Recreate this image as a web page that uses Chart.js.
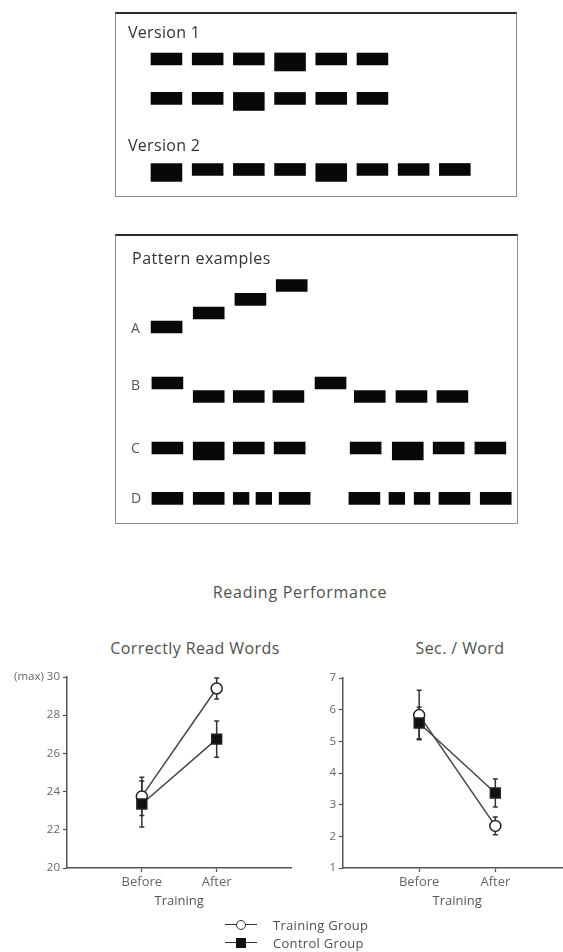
<!DOCTYPE html>
<html>
<head>
<meta charset="utf-8">
<script src="https://cdn.jsdelivr.net/npm/chart.js@4.4.1/dist/chart.umd.min.js"></script>
<style>
  html, body { margin: 0; padding: 0; background: #fff; }
  body { width: 563px; height: 952px; position: relative; overflow: hidden;
         font-family: "Open Sans", sans-serif; color: #505050; }
  .box { position: absolute; box-sizing: border-box; border: 1px solid #8c8c8c; border-top: 2px solid #2a2a2a; }
  canvas { position: absolute; }
  .t { position: absolute; white-space: nowrap; line-height: 1; transform: translateY(-50%); }
  .c { transform: translate(-50%, -50%); }
  .sym { position: absolute; width: 32px; height: 10px; transform: translateY(-50%); }
  .sym .ln { position: absolute; left: 0; right: 0; top: 4px; border-top: 1.5px solid #333; }
  .sym .mk { position: absolute; left: 11px; top: 0; width: 10px; height: 10px; box-sizing: border-box; }
</style>
</head>
<body>

<div class="box" style="left:115px;top:12px;width:402px;height:185px"></div>
<div class="box" style="left:115px;top:234px;width:403px;height:290px"></div>

<canvas id="box1" width="400" height="182" style="left:116px;top:13px"></canvas>
<canvas id="box2" width="401" height="288" style="left:116px;top:235px"></canvas>

<div class="t" style="left:128px;top:32px;font-size:16px;letter-spacing:0.3px;color:#333">Version 1</div>
<div class="t" style="left:128px;top:145px;font-size:16px;letter-spacing:0.3px;color:#333">Version 2</div>
<div class="t" style="left:132px;top:258px;font-size:16px;letter-spacing:0.5px;color:#333">Pattern examples</div>
<div class="t" style="left:131px;top:328px;font-size:14px;color:#555">A</div>
<div class="t" style="left:131px;top:385px;font-size:14px;color:#555">B</div>
<div class="t" style="left:131px;top:448px;font-size:14px;color:#555">C</div>
<div class="t" style="left:131px;top:498px;font-size:14px;color:#555">D</div>

<div class="t c" style="left:300px;top:592px;font-size:16px;letter-spacing:0.7px">Reading Performance</div>
<div class="t c" style="left:195px;top:648px;font-size:16px;letter-spacing:0.4px">Correctly Read Words</div>
<div class="t c" style="left:460px;top:648px;font-size:16px;letter-spacing:0.4px">Sec. / Word</div>

<canvas id="words" width="300" height="244" style="left:0px;top:665px"></canvas>
<canvas id="secs" width="290" height="244" style="left:290px;top:665px"></canvas>

<div class="sym" style="left:225px;top:925px"><i class="ln"></i><i class="mk" style="border:1.5px solid #333;border-radius:50%;background:#fff"></i></div>
<div class="t" style="left:273px;top:925px;font-size:13px;letter-spacing:0.3px">Training Group</div>
<div class="sym" style="left:225px;top:943px"><i class="ln"></i><i class="mk" style="background:#111"></i></div>
<div class="t" style="left:273px;top:943px;font-size:13px;letter-spacing:0.3px">Control Group</div>

<script>
// ---- pattern boxes: note onsets in beats, centre level on a 12px grid, accent = taller note
const noteLen = 0.75;
const shortLen = 0.38;

const v1aOn = [0, 1, 2, 3, 4, 5];
const v1aAcc = [0, 0, 0, 1, 0, 0];
const v1bOn = [0, 1, 2, 3, 4, 5];
const v1bAcc = [0, 0, 1, 0, 0, 0];
const v2On = [0, 1, 2, 3, 4, 5, 6, 7];
const v2Acc = [1, 0, 0, 0, 1, 0, 0, 0];
const box1Levels = [3.83, 7.12, 13.04];

const patAOn = [0, 1.02, 2.03, 3.03];
const patALevel = [7.67, 6.5, 5.37, 4.21];
const patBOn = [0.02, 1.02, 1.99, 2.95, 3.97, 4.92, 5.93, 6.92];
const patBLevel = [12.33, 13.46, 13.46, 13.46, 12.33, 13.46, 13.46, 13.46];
const patCOn = [0.02, 1.02, 1.99, 2.98, 4.82, 5.84, 6.83, 7.84];
const patCAcc = [0, 1, 0, 0, 0, 1, 0, 0];
const patCLevel = 17.75;
const patDOn = [0.02, 1.02, 1.99, 2.54, 3.10, 4.79, 5.76, 6.37, 6.97, 7.97];
const patDShort = [0, 0, 1, 1, 0, 0, 1, 1, 0, 0];
const patDLevel = 21.95;

// ---- reading performance
const phases = ['Before', 'After'];
const phaseX = [1, 2];
const wordsTraining = [23.75, 29.4];
const wordsTrainingErr = [1.0, 0.55];
const wordsControl = [23.35, 26.75];
const wordsControlErr = [1.2, 0.95];
const secTraining = [5.83, 2.33];
const secTrainingErr = [0.78, 0.28];
const secControl = [5.58, 3.37];
const secControlErr = [0.5, 0.44];

Chart.defaults.font.family = "'Open Sans', sans-serif";
Chart.defaults.animation = false;
Chart.defaults.plugins.legend.display = false;
Chart.defaults.plugins.tooltip.enabled = false;

const ACCENT_SHIFT = 0.25;

function notes(onsets, level, accents, shorts) {
    const normal = [], accent = [];
    onsets.forEach((on, i) => {
        const lv = Array.isArray(level) ? level[i] : level;
        const len = shorts && shorts[i] ? shortLen : noteLen;
        if (accents && accents[i]) {
            accent.push({ x: [on, on + len], y: lv + ACCENT_SHIFT });
        } else {
            normal.push({ x: [on, on + len], y: lv });
        }
    });
    return { normal, accent };
}

function patternChart(id, rows, yMax) {
    const normal = [], accent = [];
    rows.forEach(r => { normal.push(...r.normal); accent.push(...r.accent); });
    const bar = { backgroundColor: '#080808', borderWidth: 0, grouped: false, yAxisID: 'y' };
    return new Chart(document.getElementById(id), {
        type: 'bar',
        data: {
            datasets: [
                Object.assign({ data: normal, barThickness: 12 }, bar),
                Object.assign({ data: accent, barThickness: 18 }, bar),
            ],
        },
        options: {
            responsive: false,
            indexAxis: 'y',
            events: [],
            layout: { padding: 0 },
            scales: {
                x: { type: 'linear', min: -0.85, max: 8.86, display: false, offset: false },
                y: { type: 'linear', min: 0, max: yMax, reverse: true, display: false, offset: false,
                     grid: { offset: false }, ticks: { stepSize: 100 } },
            },
        },
    });
}

patternChart('box1', [
    notes(v1aOn, box1Levels[0], v1aAcc),
    notes(v1bOn, box1Levels[1], v1bAcc),
    notes(v2On, box1Levels[2], v2Acc),
], 182 / 12);

patternChart('box2', [
    notes(patAOn, patALevel),
    notes(patBOn, patBLevel),
    notes(patCOn, patCLevel, patCAcc),
    notes(patDOn, patDLevel, null, patDShort),
], 24);

// error bars drawn under the lines and markers
const errorBars = {
    id: 'errorBars',
    beforeDatasetsDraw(chart) {
        const { ctx, scales: { x, y } } = chart;
        ctx.save();
        ctx.strokeStyle = '#333';
        ctx.lineWidth = 1.5;
        chart.data.datasets.forEach(ds => {
            ds.data.forEach((p, i) => {
                const e = ds.errors[i];
                const px = x.getPixelForValue(p.x);
                const top = y.getPixelForValue(p.y + e);
                const bot = y.getPixelForValue(p.y - e);
                ctx.beginPath();
                ctx.moveTo(px, top); ctx.lineTo(px, bot);
                ctx.moveTo(px - 2.5, top); ctx.lineTo(px + 2.5, top);
                ctx.moveTo(px - 2.5, bot); ctx.lineTo(px + 2.5, bot);
                ctx.stroke();
            });
        });
        ctx.restore();
    },
};

function groupSets(training, trainingErr, control, controlErr) {
    const line = { borderColor: '#444', borderWidth: 1.5, pointBorderColor: '#222', pointBorderWidth: 1.5 };
    return [
        Object.assign({
            label: 'Training Group',
            data: phaseX.map((x, i) => ({ x, y: training[i] })),
            errors: trainingErr,
            order: 1,
            pointStyle: 'circle',
            pointRadius: 5.5,
            pointBackgroundColor: '#fff',
        }, line),
        Object.assign({
            label: 'Control Group',
            data: phaseX.map((x, i) => ({ x, y: control[i] })),
            errors: controlErr,
            order: 0,
            pointStyle: 'rect',
            pointRadius: 7,
            pointBackgroundColor: '#111',
        }, line),
    ];
}

function perfOptions(yMin, yMax, step, yWidth, pad, yLabel) {
    const grey = '#555';
    return {
        responsive: false,
        events: [],
        layout: { padding: pad },
        scales: {
            x: {
                type: 'linear', min: 0, max: 3,
                afterBuildTicks: s => { s.ticks = phaseX.map(v => ({ value: v })); },
                afterFit: s => { s.height = 41; },
                ticks: { callback: v => phases[phaseX.indexOf(v)], color: '#666', font: { size: 13 }, padding: 2, maxRotation: 0, autoSkip: false },
                grid: { drawOnChartArea: false, tickLength: 4, tickColor: grey, tickWidth: 1.2 },
                border: { color: grey, width: 1.5 },
                title: { display: true, text: 'Training', color: grey, font: { size: 13 }, padding: { top: 0, bottom: 0 } },
            },
            y: {
                min: yMin, max: yMax,
                afterFit: s => { s.width = yWidth; },
                ticks: { stepSize: step, color: '#666', font: { size: 11.5 }, padding: 3, callback: yLabel },
                grid: { drawOnChartArea: false, tickLength: 4, tickColor: grey, tickWidth: 1.2 },
                border: { color: grey, width: 1.5 },
            },
        },
    };
}

new Chart(document.getElementById('words'), {
    type: 'line',
    data: { datasets: groupSets(wordsTraining, wordsTrainingErr, wordsControl, wordsControlErr) },
    options: perfOptions(20, 30, 2, 67, { top: 12, right: 5 }, v => (v === 30 ? '(max) 30' : v)),
    plugins: [errorBars],
});

new Chart(document.getElementById('secs'), {
    type: 'line',
    data: { datasets: groupSets(secTraining, secTrainingErr, secControl, secControlErr) },
    options: perfOptions(1, 7, 1, 53, { top: 13, right: 7 }, v => v),
    plugins: [errorBars],
});
</script>
</body>
</html>
